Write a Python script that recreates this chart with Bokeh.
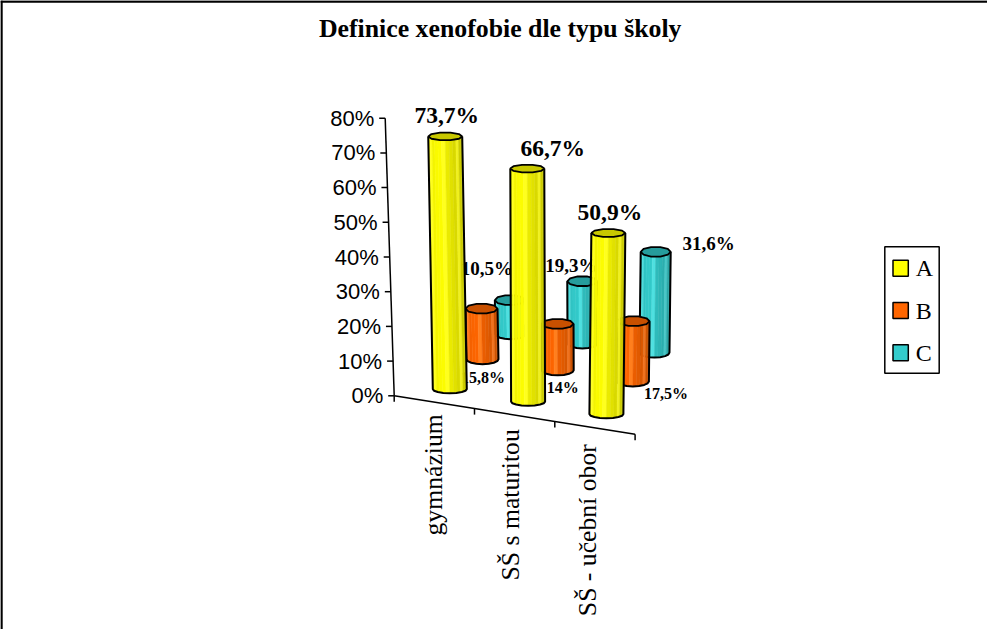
from math import cos, sin, pi
from bokeh.plotting import figure
from bokeh.embed import file_html
from bokeh.resources import INLINE
from bokeh.core.properties import value

TITLE = "Definice xenofobie dle typu školy"
categories = ["gymnázium", "SŠ s maturitou", "SŠ - učební obor"]
series_names = ["A", "B", "C"]
series_a = [73.7, 66.7, 50.9]
series_b = [15.8, 14.0, 17.5]
series_c = [10.5, 19.3, 31.6]
labels_a = ["73,7%", "66,7%", "50,9%"]
labels_b = ["15,8%", "14%", "17,5%"]
labels_c = ["10,5%", "19,3%", "31,6%"]
value_ticks = [0, 10, 20, 30, 40, 50, 60, 70, 80]
value_tick_labels = ["0%", "10%", "20%", "30%", "40%", "50%", "60%", "70%", "80%"]

W, H = 987, 629
OFF = 8
SERIF = "Liberation Serif"
SANS = "Liberation Sans"

p = figure(width=W, height=H, x_range=(OFF, OFF + W), y_range=(OFF + H, OFF),
           output_backend="svg", toolbar_location=None, min_border=0,
           x_axis_type=None, y_axis_type=None, outline_line_color=None,
           background_fill_color="white", border_fill_color="white")
p.grid.visible = False

# 3D projection of the chart: one row of parameters per depth row (series)
ORIG_X = [457.3, 490.0, 518.0]
ORIG_Y = [396.7, 366.7, 341.7]
STEP_X = [78.3, 75.2, 72.0]
STEP_Y = [12.5, 11.1, 9.2]
K0 = [3.43, 3.20, 3.25]
K1 = [0.065, 0.12, -0.03]
RX = [17.0, 16.0, 15.0]
RY = [4.0, 5.0, 5.0]

def project(c, s, v):
    base_x = ORIG_X[s] + c * STEP_X[s]
    base_y = ORIG_Y[s] + c * STEP_Y[s]
    return base_x + (-0.062 + 0.05 * c) * v, base_y - (K0[s] + K1[s] * c) * v

BODY = [(255, 255, 0), (255, 102, 0), (51, 204, 204)]
TOP = ["#c8c800", "#c85000", "#269c9c"]
N = 14

def shade(rgb, t):
    f = 0.92 + 0.08 * t / 0.3 if t < 0.3 else 1.0 - 0.22 * (t - 0.3) / 0.7
    r, g, b = [min(255, int(x * f)) for x in rgb]
    return f"#{r:02x}{g:02x}{b:02x}"

def cylinder(c, s, v):
    bx, by = project(c, s, 0)
    tx, ty = project(c, s, v)
    rx, ry = RX[s], RY[s]
    xs, ys, cols = [], [], []
    for i in range(N):
        a0, a1 = pi - pi * i / N, pi - pi * (i + 1) / N
        xs.append([tx + rx * cos(a0), tx + rx * cos(a1), bx + rx * cos(a1), bx + rx * cos(a0)])
        ys.append([ty + ry * sin(a0), ty + ry * sin(a1), by + ry * sin(a1), by + ry * sin(a0)])
        t = (1 - cos(pi * (i + 0.5) / N)) / 2
        col = shade(BODY[s], t)
        if i % 4 == 2:
            col = "#" + "".join(f"{min(255, int(x) + 30):02x}" for x in
                                (int(col[1:3], 16), int(col[3:5], 16), int(col[5:7], 16)))
        cols.append(col)
    p.patches(xs, ys, fill_color=cols, line_color=cols, line_width=0.5)
    # outline of the body
    ax = [tx - rx, bx - rx] + [bx + rx * cos(pi - pi * i / 8) for i in range(1, 8)] + [bx + rx, tx + rx]
    ay = [ty, by] + [by + ry * sin(pi - pi * i / 8) for i in range(1, 8)] + [by, ty]
    p.line(ax, ay, line_color="black", line_width=2)
    # top cap
    ex = [tx + rx * cos(2 * pi * i / 10) for i in range(10)]
    ey = [ty + ry * sin(2 * pi * i / 10) for i in range(10)]
    p.patch(ex, ey, fill_color=TOP[s], line_color="black", line_width=1.8)

# ---- frame lines
p.segment([OFF, OFF + 1], [OFF + 1, OFF], [OFF + W, OFF + 1], [OFF + 1, OFF + H],
          line_color="black", line_width=2.4)

# ---- axes
v_x0, v_y0 = 401.7, 403.3
v_dx, v_dy = -0.1125, -3.47
def vpos(v):
    return v_x0 + v_dx * v, v_y0 + v_dy * v

p.line([vpos(0)[0], vpos(80)[0]], [vpos(0)[1], vpos(80)[1]], line_color="black", line_width=1.5)
tx = [vpos(v)[0] for v in value_ticks]
ty = [vpos(v)[1] for v in value_ticks]
p.segment(tx, ty, [x - 6 for x in tx], ty, line_color="black", line_width=1.5)
p.text([x - 11 for x in tx], ty, text=value_tick_labels, text_align="right", text_baseline="middle",
       text_font=value(SANS), text_font_size="22px", text_color="black")

c_dx, c_dy = 80.3, 12.8
cx = [v_x0 + c_dx * i for i in range(len(categories) + 1)]
cy = [v_y0 + c_dy * i for i in range(len(categories) + 1)]
p.line(cx, cy, line_color="black", line_width=1.5)
p.segment(cx, cy, cx, [y + 6 for y in cy], line_color="black", line_width=1.5)
lab_x = [v_x0 + 39.3 + 77 * i for i in range(3)]
lab_y = [v_y0 + 18.4 + 15 * i for i in range(3)]
p.text(lab_x, lab_y, text=categories, angle=pi / 2, text_align="right", text_baseline="middle",
       text_font=value(SERIF), text_font_size="25.7px", text_color="black")

# ---- bars, back to front, with the smaller labels below the front row
for c in range(3):
    cylinder(c, 2, series_c[c])
for c in range(3):
    cylinder(c, 1, series_b[c])

bx = [project(c, 1, 0)[0] + 2 for c in range(3)]
by = [project(c, 1, 0)[1] + 20 for c in range(3)]
bx[0] -= 1.5; bx[1] += 3; bx[2] += 31; by[0] -= 1.3; by[1] -= 3; by[2] -= 8
p.text(bx, by, text=labels_b, text_align="center", text_baseline="middle",
       text_font=value(SERIF), text_font_style="bold", text_font_size="16px", text_color="black")
cxs = [project(c, 2, series_c[c])[0] for c in range(3)]
cys = [project(c, 2, series_c[c])[1] for c in range(3)]
cxs = [cxs[0] - 23, cxs[1] - 11, cxs[2] + 53]
cys = [cys[0] - 32, cys[1] - 16, cys[2] - 8]
p.text(cxs, cys, text=labels_c, text_align="center", text_baseline="middle",
       text_font=value(SERIF), text_font_style="bold", text_font_size="19px", text_color="black")

for c in range(3):
    cylinder(c, 0, series_a[c])

ax = [project(c, 0, series_a[c])[0] + 1.5 for c in range(3)]
ay = [project(c, 0, series_a[c])[1] - 21 for c in range(3)]
ax[1] += 24
p.text(ax, ay, text=labels_a, text_align="center", text_baseline="middle",
       text_font=value(SERIF), text_font_style="bold", text_font_size="23.5px", text_color="black")

# ---- title
p.text([507.7], [35.7], text=[TITLE], text_align="center", text_baseline="middle",
       text_font=value(SERIF), text_font_style="bold", text_font_size="25.8px", text_color="black")

# ---- legend
lx0, lx1, ly0, ly1 = 892.3, 946.7, 254.3, 380.7
p.quad(left=[lx0], right=[lx1], top=[ly0], bottom=[ly1], fill_color="white", line_color="black", line_width=1.5)
ly = [ly0 + (ly1 - ly0) * (i + 0.5) / 3 + 0.5 for i in range(3)]
swatch = ["#ffff00", "#ff6600", "#33cccc"]
p.quad(left=[lx0 + 8.2] * 3, right=[lx0 + 23.5] * 3, top=[y - 8 for y in ly], bottom=[y + 8 for y in ly],
       fill_color=swatch, line_color="black", line_width=1.5)
p.text([lx0 + 31] * 3, ly, text=series_names, text_align="left", text_baseline="middle",
       text_font=value(SERIF), text_font_size="24px", text_color="black")

open("out.html", "w").write(file_html(p, INLINE))
